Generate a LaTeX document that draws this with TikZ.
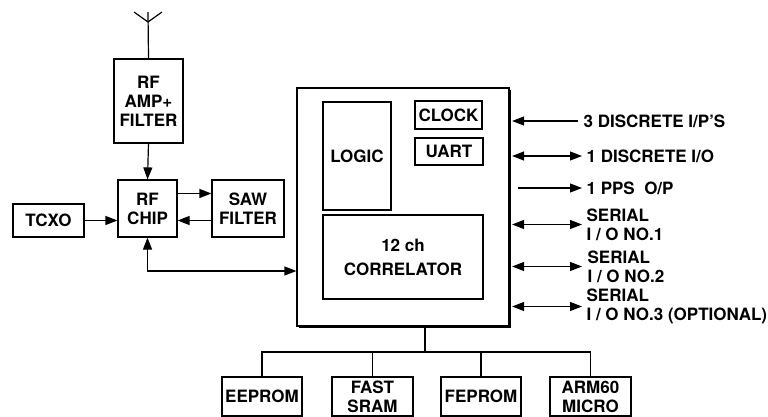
\documentclass[tikz,border=0pt]{standalone}
\usepackage{fontspec}
\setmainfont{TeX Gyre Heros}
\usetikzlibrary{arrows.meta, shadows, calc}

\tikzset{
    blk/.style={draw, line width=1.2pt, align=center, inner sep=0pt},
    arr/.style={line width=1.2pt, -{Triangle[length=12pt,width=9pt]}},
    darr/.style={line width=1.2pt, {Triangle[length=12pt,width=9pt]}-{Triangle[length=12pt,width=9pt]}},
    pin/.style={anchor=west, align=left, inner sep=0pt},
    bus/.style={line width=1.8pt},
}

\begin{document}
\begin{tikzpicture}[x=1pt, y=-1pt, font=\fontsize{17}{19}\selectfont\bfseries, line width=1.2pt]
    \useasboundingbox (0,0) rectangle (768,417);

    % receiver front end
    \node[blk, minimum width=69pt, minimum height=84pt] (amp) at (148.5,101) {RF\\AMP+\\FILTER};
    \node[blk, minimum width=59pt, minimum height=57pt] (chip) at (147.5,208.5) {RF\\CHIP};
    \node[blk, minimum width=72pt, minimum height=57pt] (saw) at (248,208.5) {SAW\\FILTER};
    \node[blk, minimum width=71pt, minimum height=33pt] (tcxo) at (48.5,220.5) {TCXO};

    % antenna
    \coordinate (antL) at (134,12);
    \coordinate (antR) at (162,12);
    \coordinate (antT) at (148,12);
    \coordinate (ant) at (148,22);
    \draw (antL) -- (ant) -- (antR);
    \draw (antT) -- (amp.north);

    \draw[arr] (amp.south) -- (chip.north);
    \draw[arr] ([yshift=15pt]chip.east) -- ([yshift=15pt]saw.west);
    \draw[arr] ([yshift=-12pt]saw.west) -- ([yshift=-12pt]chip.east);
    \draw[arr] (tcxo.east) -- (tcxo.east -| chip.west);

    % baseband chip
    \node[blk, fill=white, minimum width=212pt, minimum height=238pt,
        drop shadow={shadow xshift=1.6pt, shadow yshift=-1.6pt, fill=black, opacity=1}] (main) at (403,207) {};
    \node[blk, minimum width=68pt, minimum height=108pt] (logic) at (357,156) {LOGIC};
    \node[blk, minimum width=67pt, minimum height=28pt] (clock) at (448.5,115) {CLOCK};
    \node[blk, minimum width=68pt, minimum height=27pt] (uart) at (449,151.5) {UART};
    \node[blk, minimum width=160pt, minimum height=84pt] (corr) at (403,257) {12 ch\\[5pt]CORRELATOR};

    \draw[darr] (chip.south) |- ($(main.west)+(0,64)$);

    % external signals
    \node[pin] (dip) at (583,121) {3 DISCRETE I/P'S};
    \node[pin] (dio) at (586,156) {1 DISCRETE I/O};
    \node[pin] (pps) at (586,188) {1 PPS\ \ O/P};
    \node[pin] (ser1) at (586,224.5) {SERIAL\\I / O NO.1};
    \node[pin] (ser2) at (587,266.5) {SERIAL\\I / O NO.2};
    \node[pin] (ser3) at (586,306.5) {SERIAL\\I / O NO.3 (OPTIONAL)};

    \draw[arr] ([xshift=-5pt]dip.west) -- ($(dip.west -| main.east)+(2.5,0)$);
    \draw[darr] ($(dio.west -| main.east)+(2.5,0)$) -- ([xshift=-4pt]dio.west);
    \draw[arr] ($(pps.west -| main.east)+(8,0)$) -- ([xshift=-4pt]pps.west);
    \draw[darr] ($(ser1.west -| main.east)+(2.5,0)$) -- ([xshift=-4pt]ser1.west);
    \draw[darr] ($(ser2.west -| main.east)+(2.5,0)$) -- ([xshift=-5pt]ser2.west);
    \draw[darr] ($(ser3.west -| main.east)+(2.5,0)$) -- ([xshift=-4pt]ser3.west);

    % memory bus
    \node[blk, minimum width=80pt, minimum height=39pt] (ee) at (262,396.5) {EEPROM};
    \node[blk, minimum width=81pt, minimum height=39pt] (sram) at (372.5,396.5) {FAST\\SRAM};
    \node[blk, minimum width=80pt, minimum height=39pt] (fe) at (481,396.5) {FEPROM};
    \node[blk, minimum width=81pt, minimum height=39pt] (arm) at (590.5,396.5) {ARM60\\MICRO};

    \coordinate (drop) at (425,352);
    \draw[bus] ($(main.south)+(22,0)$) -- (drop);
    \draw[bus] (ee.north) |- (drop) -| (arm.north);
    \draw[bus] (sram.north) -- (sram.north |- drop);
    \draw[bus] (fe.north) -- (fe.north |- drop);
\end{tikzpicture}
\end{document}
